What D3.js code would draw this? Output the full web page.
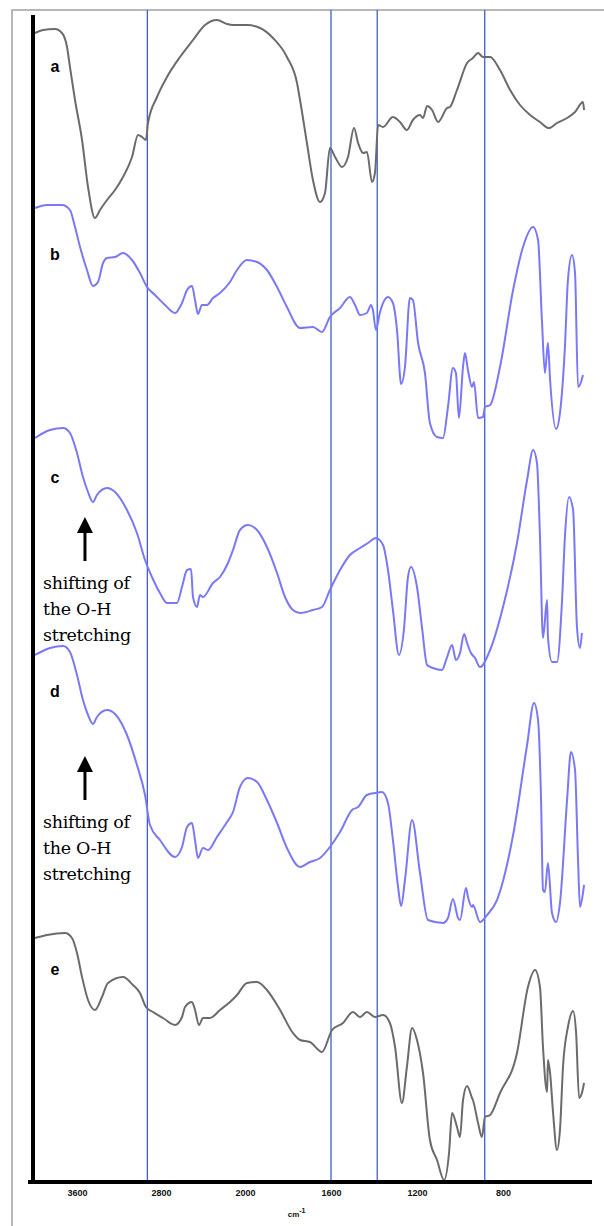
<!DOCTYPE html>
<html>
<head>
<meta charset="utf-8">
<script src="https://cdn.jsdelivr.net/npm/d3@7"></script>
<style>
  body { margin: 0; background: #fff; }
  svg { display: block; }
</style>
</head>
<body>
<figure id="ftir" style="margin:0"></figure>
<script>
// FTIR spectra a-e, x in cm-1, y in arbitrary transmittance units (stacked)
const seriesNames = ["a", "b", "c", "d", "e"]
const tickLabels = [3600, 2800, 2000, 1600, 1200, 800]
const markerLines = [2930, 1600, 1385, 885]

const specA = [[4000,1149],[3924,1152],[3810,1153],[3743,1149],[3695,1135],[3667,1115],[3619,1082],[3552,1042],[3495,995],[3429,964],[3381,972],[3314,982],[3238,992],[3162,1005],[3076,1025],[3019,1047],[2981,1045],[2943,1042],[2924,1059],[2838,1085],[2743,1105],[2619,1125],[2495,1142],[2381,1157],[2267,1162],[2171,1158],[2114,1157],[1991,1157],[1930,1154],[1870,1144],[1805,1125],[1758,1099],[1744,1082],[1712,1039],[1684,1002],[1651,980],[1628,989],[1605,1034],[1581,1025],[1549,1015],[1521,1025],[1493,1054],[1474,1039],[1451,1029],[1433,1030],[1409,1000],[1395,1010],[1381,1057],[1358,1055],[1312,1065],[1279,1060],[1247,1052],[1219,1062],[1186,1067],[1172,1064],[1153,1076],[1130,1072],[1102,1060],[1060,1074],[1047,1075],[1014,1092],[967,1119],[940,1124],[916,1129],[893,1125],[860,1125],[814,1112],[767,1092],[721,1077],[674,1067],[628,1060],[586,1054],[549,1059],[502,1064],[465,1070],[428,1080],[423,1072]]

const specB = [[4000,974],[3886,977],[3743,977],[3667,972],[3619,955],[3571,935],[3505,912],[3448,896],[3400,900],[3352,919],[3314,924],[3238,925],[3162,929],[3076,922],[3000,909],[2933,895],[2857,887],[2762,877],[2667,869],[2600,879],[2552,892],[2505,896],[2476,882],[2448,868],[2410,877],[2362,877],[2305,884],[2238,889],[2143,900],[2076,912],[1991,922],[1944,920],[1898,912],[1851,895],[1805,875],[1744,854],[1684,855],[1642,850],[1605,865],[1558,874],[1512,885],[1488,877],[1465,867],[1433,869],[1414,877],[1405,872],[1391,852],[1372,870],[1335,885],[1312,879],[1293,852],[1274,798],[1256,815],[1233,884],[1219,882],[1195,839],[1163,809],[1140,759],[1107,745],[1079,744],[1056,775],[1033,814],[1019,809],[1005,764],[986,815],[977,829],[963,812],[944,795],[935,800],[916,764],[893,765],[884,775],[860,777],[814,815],[753,892],[707,935],[660,955],[637,942],[619,862],[605,809],[591,839],[581,802],[553,753],[535,769],[512,835],[498,902],[479,927],[465,909],[451,795],[437,800],[428,807]]

const specC = [[4000,744],[3857,752],[3733,754],[3667,749],[3600,729],[3543,705],[3495,690],[3448,680],[3410,687],[3314,694],[3238,690],[3124,672],[3029,649],[2952,622],[2886,605],[2810,589],[2743,579],[2648,579],[2600,595],[2552,612],[2514,613],[2495,585],[2457,575],[2429,587],[2400,585],[2305,599],[2238,605],[2162,619],[2114,632],[2048,652],[1986,657],[1944,652],[1898,635],[1851,609],[1814,585],[1777,572],[1744,569],[1684,572],[1642,575],[1605,592],[1558,612],[1512,627],[1465,634],[1428,639],[1391,644],[1358,637],[1335,612],[1312,572],[1284,527],[1261,552],[1242,605],[1228,615],[1200,595],[1177,555],[1153,517],[1126,514],[1084,512],[1060,525],[1037,537],[1019,522],[1000,529],[981,548],[967,539],[949,529],[930,524],[907,515],[860,532],[800,575],[735,639],[688,702],[660,732],[642,719],[628,645],[614,544],[595,582],[591,545],[572,520],[549,520],[526,579],[512,645],[493,685],[474,672],[456,555],[442,534],[433,549]]

const specD = [[4000,527],[3857,534],[3733,536],[3667,530],[3600,507],[3543,482],[3495,467],[3448,458],[3410,465],[3314,472],[3238,468],[3124,447],[3029,417],[2952,387],[2905,357],[2810,342],[2667,325],[2600,335],[2552,355],[2505,359],[2476,342],[2448,324],[2400,334],[2352,332],[2267,345],[2171,360],[2114,370],[2048,395],[1986,404],[1944,400],[1898,382],[1851,359],[1805,334],[1744,315],[1698,320],[1651,324],[1605,335],[1558,350],[1502,372],[1474,375],[1433,387],[1395,389],[1363,390],[1335,379],[1312,342],[1288,295],[1274,276],[1256,302],[1223,362],[1186,309],[1149,262],[1079,259],[1056,264],[1033,283],[1009,264],[1000,262],[972,294],[963,285],[944,275],[940,277],[907,260],[874,267],[828,282],[753,347],[688,437],[656,479],[637,462],[623,382],[614,292],[605,290],[591,319],[572,269],[553,260],[535,279],[502,382],[484,430],[465,412],[451,322],[442,275],[428,289],[423,297]]

const specE = [[4000,244],[3886,247],[3714,249],[3648,244],[3600,229],[3552,205],[3495,182],[3429,172],[3362,185],[3305,199],[3162,205],[3067,197],[3000,189],[2943,175],[2876,170],[2781,164],[2667,157],[2600,165],[2571,175],[2505,180],[2476,172],[2438,157],[2400,164],[2333,164],[2238,172],[2143,180],[2076,187],[1991,199],[1944,200],[1898,192],[1837,172],[1777,149],[1744,142],[1698,140],[1642,130],[1595,152],[1544,159],[1498,170],[1465,165],[1433,170],[1395,165],[1358,167],[1326,159],[1302,135],[1270,79],[1247,115],[1223,154],[1200,142],[1172,109],[1140,42],[1107,22],[1074,2],[1051,29],[1037,69],[1014,55],[1000,45],[986,82],[967,96],[944,84],[940,82],[916,59],[898,45],[884,65],[860,67],[814,89],[735,129],[684,195],[651,212],[628,195],[614,135],[595,90],[591,122],[581,109],[567,69],[549,32],[535,52],[521,115],[498,155],[474,171],[460,149],[446,84],[433,89],[423,99]]

const spectra = [specA, specB, specC, specD, specE]
const colors = ["#6b6b6b", "#7a78f4", "#7a78f4", "#7a78f4", "#6b6b6b"]
const labelLevels = [1115, 927, 704, 490, 212]
// annotations point at the O-H shift in c and d
const notePoints = [[3448, 665], [3448, 426]]
const noteLines = ["shifting of", "the O-H", "stretching"]

const width = 604
const height = 1226

const svg = d3.select("#ftir").append("svg")
  .attr("width", width)
  .attr("height", height)

// wavenumber axis is split at 2000 cm-1 like the instrument printout
const x = d3.scaleLinear()
  .domain([4000, 2000, 400])
  .range([35, 245, 589])

const y = d3.scaleLinear()
  .domain([0, 1172])
  .range([1182, 10])

// outer frame (left + top)
svg.append("path")
  .attr("d", "M12,1226V10H604")
  .attr("fill", "none")
  .attr("stroke", "#a0a0a0")
  .attr("stroke-width", 1.5)

// reference lines
svg.selectAll(".marker")
  .data(markerLines)
  .enter()
  .append("line")
  .attr("class", "marker")
  .attr("x1", d => x(d))
  .attr("x2", d => x(d))
  .attr("y1", y.range()[1])
  .attr("y2", y.range()[0])
  .attr("stroke", "#3f5fcf")
  .attr("stroke-width", 1.3)

const line = d3.line()
  .x(d => x(d[0]))
  .y(d => y(d[1]))
  .curve(d3.curveMonotoneX)

svg.selectAll(".spectrum")
  .data(spectra)
  .enter()
  .append("path")
  .attr("class", "spectrum")
  .attr("d", d => line(d))
  .attr("fill", "none")
  .attr("stroke", (d, i) => colors[i])
  .attr("stroke-width", 2)
  .attr("stroke-linejoin", "round")

// axes
const xAxis = svg.append("g")
  .attr("transform", "translate(0," + y(0) + ")")
  .call(d3.axisBottom(x).tickValues(tickLabels).tickSize(0).tickPadding(8).tickFormat(d3.format("d")))
xAxis.select(".domain").remove()
xAxis.selectAll("text")
  .attr("font-family", "Liberation Sans, Arial, sans-serif")
  .attr("font-size", 9)
  .attr("font-weight", "bold")
  .attr("fill", "#111")

svg.append("line")
  .attr("x1", x(4000) - 7).attr("x2", x(400) + 3)
  .attr("y1", y(0)).attr("y2", y(0))
  .attr("stroke", "#000").attr("stroke-width", 4)

svg.append("line")
  .attr("x1", x(4000) - 2).attr("x2", x(4000) - 2)
  .attr("y1", 15).attr("y2", y(0) + 2)
  .attr("stroke", "#000").attr("stroke-width", 4)

const unit = svg.append("text")
  .attr("x", x(1760))
  .attr("y", y(0) + 35)
  .attr("text-anchor", "middle")
  .attr("font-family", "Liberation Sans, Arial, sans-serif")
  .attr("font-size", 8)
  .attr("font-weight", "bold")
  .attr("fill", "#111")
unit.append("tspan").text("cm")
unit.append("tspan").attr("dy", -4).attr("font-size", 7).text("-1")

// series letters
svg.selectAll(".letter")
  .data(seriesNames)
  .enter()
  .append("text")
  .attr("class", "letter")
  .attr("x", 55)
  .attr("y", (d, i) => y(labelLevels[i]) + 5)
  .attr("text-anchor", "middle")
  .attr("font-family", "Liberation Sans, Arial, sans-serif")
  .attr("font-size", 16)
  .attr("font-weight", "bold")
  .attr("fill", "#000")
  .text(d => d)

// arrows + notes
notePoints.forEach(p => {
  const ax = x(p[0]) - 8
  const ay = y(p[1])
  const g = svg.append("g")
  g.append("line")
    .attr("x1", ax).attr("x2", ax)
    .attr("y1", ay + 12).attr("y2", ay + 44)
    .attr("stroke", "#000").attr("stroke-width", 3)
  g.append("path")
    .attr("d", "M" + (ax - 8) + "," + (ay + 16) + "L" + ax + "," + ay + "L" + (ax + 8) + "," + (ay + 16) + "Z")
    .attr("fill", "#000")
  g.selectAll("text")
    .data(noteLines)
    .enter()
    .append("text")
    .attr("x", 43)
    .attr("y", (d, i) => ay + 72 + i * 26)
    .attr("font-family", "DejaVu Serif, serif")
    .attr("font-size", 17.5)
    .attr("letter-spacing", -0.3)
    .attr("fill", "#000")
    .text(d => d)
})
</script>
</body>
</html>
